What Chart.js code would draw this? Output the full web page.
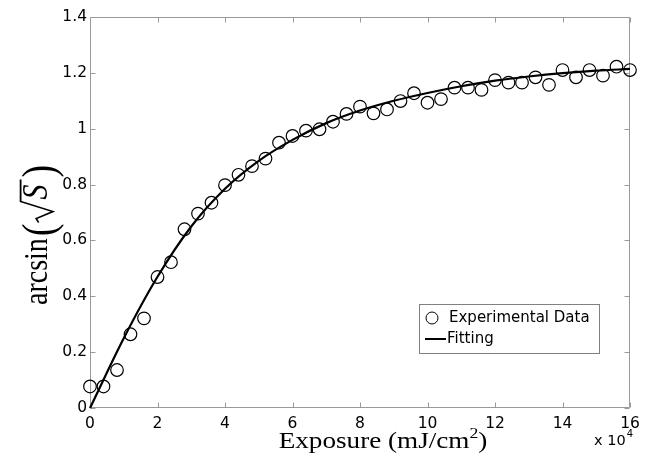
<!DOCTYPE html>
<html><head><meta charset="utf-8">
<script src="https://cdn.jsdelivr.net/npm/chart.js@4.4.1/dist/chart.umd.min.js"></script>
<style>html,body{margin:0;padding:0;background:#fff;}canvas{display:block;}</style>
</head><body>
<canvas id="c" width="649" height="465"></canvas>
<script>
// ---- data ----
const exposure = [0,4000,8000,12000,16000,20000,24000,28000,32000,36000,40000,44000,48000,52000,56000,60000,64000,68000,72000,76000,80000,84000,88000,92000,96000,100000,104000,108000,112000,116000,120000,124000,128000,132000,136000,140000,144000,148000,152000,156000,160000];
const measured = [0.077,0.077,0.136,0.264,0.321,0.469,0.522,0.640,0.696,0.735,0.798,0.835,0.866,0.893,0.950,0.974,0.993,0.998,1.025,1.053,1.079,1.055,1.069,1.099,1.127,1.093,1.106,1.147,1.147,1.139,1.174,1.165,1.165,1.184,1.157,1.210,1.184,1.210,1.190,1.222,1.210];
const fitExposure = [0,10000,20000,30000,40000,50000,60000,70000,80000,90000,100000,110000,120000,130000,140000,150000,160000];
const fitValues = [0,0.25,0.47,0.65,0.785,0.885,0.96,1.02,1.065,1.10,1.128,1.152,1.172,1.187,1.199,1.208,1.214];
const xTickLabels = ['0','2','4','6','8','10','12','14','16'];
const yTickLabels = ['0','0.2','0.4','0.6','0.8','1','1.2','1.4'];
const seriesLabels = ['Experimental Data','Fitting'];
const xTitleMain = 'Exposure (mJ/cm';
const xTitleSup = '2';
const xTitleEnd = ')';
const yTitleFunc = 'arcsin';
const yTitleVar = 'S';
const xMultiplier = ['x 10','4'];

const TICK_FONT = '"DejaVu Sans"';
const SERIF = '"Liberation Serif"';
const GREY = '#9a9a9a';

const framePlugin = {
  id: 'frame',
  beforeDatasetsDraw(chart) {
    const {ctx, chartArea: a, scales: {x, y}} = chart;
    ctx.save();
    ctx.strokeStyle = GREY;
    ctx.lineWidth = 1;
    const L = Math.round(a.left) + 0.5, R = Math.round(a.right) - 0.5;
    const T = Math.round(a.top) + 0.5, B = Math.round(a.bottom) - 0.5;
    ctx.beginPath();
    ctx.moveTo(L, T); ctx.lineTo(R, T); ctx.lineTo(R, B); ctx.lineTo(L, B); ctx.closePath();
    x.ticks.forEach(t => {
      const px = Math.round(x.getPixelForValue(t.value)) + 0.5;
      ctx.moveTo(px, B); ctx.lineTo(px, B - 5);
      ctx.moveTo(px, T); ctx.lineTo(px, T + 5);
    });
    y.ticks.forEach(t => {
      const py = Math.round(y.getPixelForValue(t.value)) + 0.5;
      ctx.moveTo(L, py); ctx.lineTo(L + 5, py);
      ctx.moveTo(R, py); ctx.lineTo(R - 5, py);
    });
    ctx.stroke();
    ctx.restore();
  },
  afterDraw(chart) {
    const {ctx} = chart;
    ctx.save();
    ctx.fillStyle = '#000';
    ctx.textBaseline = 'alphabetic';
    ctx.textAlign = 'left';

    // x title
    ctx.font = '23px ' + SERIF;
    const w1 = ctx.measureText(xTitleMain).width;
    const w3 = ctx.measureText(xTitleEnd).width;
    ctx.font = '15px ' + SERIF;
    const w2 = ctx.measureText(xTitleSup).width;
    const sx = 1.18;
    const total = (w1 + w2 + w3) * sx;
    ctx.save();
    ctx.translate(383 - total / 2, 448);
    ctx.scale(sx, 1);
    ctx.font = '23px ' + SERIF;
    ctx.fillText(xTitleMain, 0, 0);
    ctx.font = '15px ' + SERIF;
    ctx.fillText(xTitleSup, w1, -10);
    ctx.font = '23px ' + SERIF;
    ctx.fillText(xTitleEnd, w1 + w2, 0);
    ctx.restore();

    // x multiplier
    ctx.font = '14.5px ' + TICK_FONT;
    ctx.fillText(xMultiplier[0], 594, 445);
    const mw = ctx.measureText(xMultiplier[0]).width;
    ctx.font = '10px ' + TICK_FONT;
    ctx.fillText(xMultiplier[1], 594 + mw + 1, 437);

    // y title
    ctx.save();
    ctx.translate(47, 305);
    ctx.scale(1.2, 1);
    ctx.rotate(-Math.PI / 2);
    ctx.font = '28px ' + SERIF;
    ctx.fillText(yTitleFunc, 0, 0);
    let u = ctx.measureText(yTitleFunc).width + 2;
    ctx.font = '38px ' + SERIF;
    ctx.fillText('(', u, 6);
    u += ctx.measureText('(').width + 1;
    ctx.font = 'italic 30px ' + SERIF;
    const sw = ctx.measureText(yTitleVar).width;
    ctx.beginPath();
    ctx.lineWidth = 1.5;
    ctx.strokeStyle = '#000';
    ctx.moveTo(u, -7);
    ctx.lineTo(u + 4, -9);
    ctx.lineTo(u + 11, 5);
    ctx.lineTo(u + 21, -22);
    ctx.lineTo(u + 21 + sw + 7, -22);
    ctx.stroke();
    ctx.fillText(yTitleVar, u + 23, 0);
    u += 21 + sw + 9;
    ctx.font = '38px ' + SERIF;
    ctx.fillText(')', u, 6);
    ctx.restore();

    // legend
    const bx = 419.5, by = 304.5, bw = 180, bh = 49;
    ctx.fillStyle = '#fff';
    ctx.fillRect(bx, by, bw, bh);
    ctx.strokeStyle = '#808080';
    ctx.lineWidth = 1;
    ctx.strokeRect(bx, by, bw, bh);
    ctx.strokeStyle = '#000';
    ctx.beginPath();
    ctx.arc(432, 318, 6, 0, Math.PI * 2);
    ctx.stroke();
    ctx.lineWidth = 2;
    ctx.beginPath();
    ctx.moveTo(425, 339); ctx.lineTo(446, 339);
    ctx.stroke();
    ctx.fillStyle = '#000';
    ctx.font = '15px ' + TICK_FONT;
    ctx.textBaseline = 'middle';
    ctx.fillText(seriesLabels[0], 449, 318);
    ctx.fillText(seriesLabels[1], 447, 339);
    ctx.restore();
  }
};

new Chart(document.getElementById('c'), {
  type: 'scatter',
  data: {
    datasets: [
      {
        label: seriesLabels[0],
        data: exposure.map((v, i) => ({x: v, y: measured[i]})),
        pointStyle: 'circle',
        pointRadius: 6.3,
        pointBorderWidth: 1.2,
        pointBorderColor: '#000',
        pointBackgroundColor: 'rgba(0,0,0,0)',
        showLine: false,
        clip: false,
        order: 2
      },
      {
        label: seriesLabels[1],
        data: fitExposure.map((v, i) => ({x: v, y: fitValues[i]})),
        showLine: true,
        borderColor: '#000',
        borderWidth: 2.2,
        pointRadius: 0,
        cubicInterpolationMode: 'monotone',
        fill: false,
        clip: false,
        order: 1
      }
    ]
  },
  options: {
    responsive: false,
    animation: false,
    devicePixelRatio: 1,
    layout: {padding: {left: 0, right: 19, top: 17, bottom: 0}},
    plugins: {legend: {display: false}, tooltip: {enabled: false}, title: {display: false}},
    scales: {
      x: {
        type: 'linear', min: 0, max: 160000,
        grid: {display: false, drawTicks: false},
        border: {display: false},
        ticks: {
          stepSize: 20000, padding: 7, color: '#000', maxRotation: 0,
          font: {family: 'DejaVu Sans', size: 15.5},
          callback: (v, i) => xTickLabels[i]
        },
        afterFit: s => { s.height = 57; }
      },
      y: {
        type: 'linear', min: 0, max: 1.4,
        grid: {display: false, drawTicks: false},
        border: {display: false},
        ticks: {
          stepSize: 0.2, padding: 3, color: '#000',
          font: {family: 'DejaVu Sans', size: 15.5},
          callback: (v, i) => yTickLabels[i]
        },
        afterFit: s => { s.width = 90; }
      }
    }
  },
  plugins: [framePlugin]
});
</script>
</body></html>
